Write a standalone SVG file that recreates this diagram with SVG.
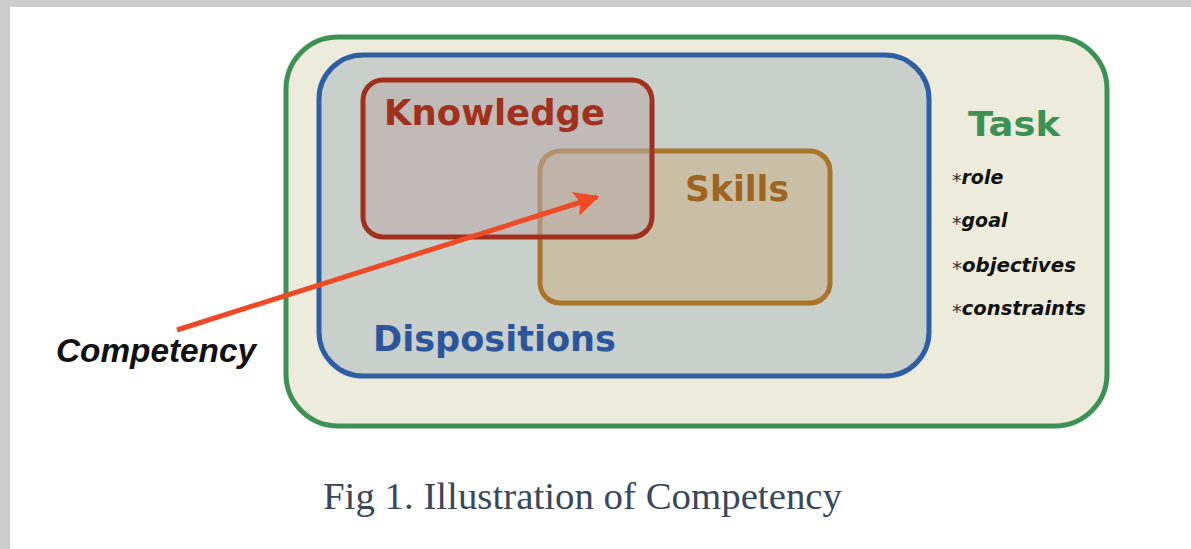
<svg xmlns="http://www.w3.org/2000/svg" width="1191" height="549" viewBox="0 0 1191 549">
<defs>
<style>
.lbl{font-family:"DejaVu Sans","Liberation Sans",Arial,sans-serif;font-weight:bold}
.item{font-family:"DejaVu Sans","Liberation Sans",Arial,sans-serif;font-weight:bold;font-style:italic;font-size:19px;fill:#111}
.ast{font-weight:normal;font-style:normal;font-size:19px;fill:#333}
</style>
<marker id="ah" viewBox="0 0 10 10" refX="9" refY="5" markerWidth="5" markerHeight="5" orient="auto" markerUnits="strokeWidth">
<path d="M0,0 L10,5 L0,10 L2,5 z" fill="#ee4a25"/>
</marker>
</defs>
<rect x="0" y="0" width="1191" height="549" fill="#ffffff"/>
<rect x="0" y="0" width="1191" height="7" fill="#cccccc"/>
<rect x="0" y="0" width="10" height="549" fill="#cccccc"/>
<g id="task">
<rect x="286" y="37" width="821" height="389" rx="52" fill="#ecebdc" stroke="#3e9154" stroke-width="5"/>
<text class="lbl" x="968" y="136" font-size="34" fill="#3e9154" textLength="92" lengthAdjust="spacingAndGlyphs">Task</text>
<text class="item" x="952" y="184"><tspan class="ast" dy="3">*</tspan><tspan dy="-3">role</tspan></text>
<text class="item" x="952" y="227"><tspan class="ast" dy="3">*</tspan><tspan dy="-3">goal</tspan></text>
<text class="item" x="952" y="272" textLength="124" lengthAdjust="spacingAndGlyphs"><tspan class="ast" dy="3">*</tspan><tspan dy="-3">objectives</tspan></text>
<text class="item" x="952" y="315" textLength="134" lengthAdjust="spacingAndGlyphs"><tspan class="ast" dy="3">*</tspan><tspan dy="-3">constraints</tspan></text>
</g>
<g id="dispositions">
<rect x="319" y="55" width="610" height="321" rx="44" fill="#c9d0cc" stroke="#2e5fa5" stroke-width="5"/>
<text class="lbl" x="373" y="351" font-size="35" fill="#2b569c" textLength="243" lengthAdjust="spacingAndGlyphs">Dispositions</text>
</g>
<g id="skills">
<rect x="540" y="151" width="290" height="152" rx="20" fill="#c9bfa6" stroke="#aa7428" stroke-width="5"/>
<text class="lbl" x="685" y="201" font-size="35" fill="#9e6521" textLength="104" lengthAdjust="spacingAndGlyphs">Skills</text>
</g>
<g id="knowledge">
<rect x="363" y="80" width="289" height="157" rx="20" fill="#b8a9a8" fill-opacity="0.55" stroke="#a1301c" stroke-width="5"/>
<text class="lbl" x="384" y="125" font-size="36" fill="#a1301c" textLength="221" lengthAdjust="spacingAndGlyphs">Knowledge</text>
</g>
<g id="connectors">
<line x1="177" y1="330" x2="597" y2="197" stroke="#ee4a25" stroke-width="5" marker-end="url(#ah)"/>
</g>
<g id="competency">
<text x="56" y="362" font-family="'Liberation Sans',Arial,sans-serif" font-weight="bold" font-style="italic" font-size="33" fill="#111" textLength="200" lengthAdjust="spacingAndGlyphs">Competency</text>
</g>
<text x="323" y="509" font-family="'Liberation Serif','Times New Roman',serif" font-size="38" fill="#3a4659" textLength="519" lengthAdjust="spacingAndGlyphs">Fig 1. Illustration of Competency</text>
</svg>
